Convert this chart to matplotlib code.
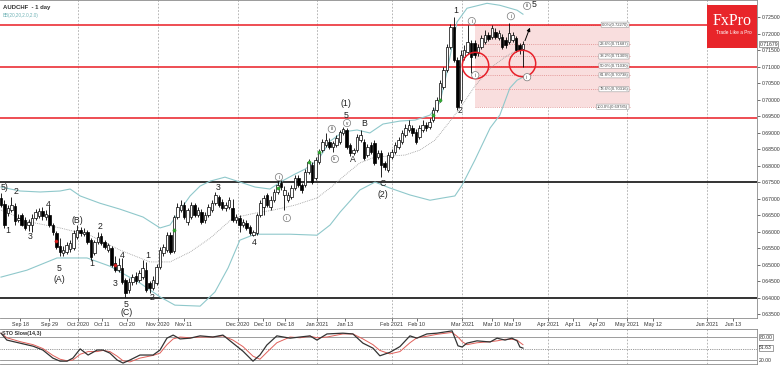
import matplotlib
matplotlib.use("Agg")
import matplotlib.pyplot as plt
from matplotlib.patches import Rectangle

plt.rcParams['font.family'] = ['Liberation Sans', 'DejaVu Sans']

# ---------------- data (AUDCHF daily candles) ----------------
opens = [0.6701, 0.6683, 0.6656, 0.6665, 0.6677, 0.6635, 0.6650, 0.6635, 0.6620, 0.6620,
         0.6641, 0.6647, 0.6662, 0.6644, 0.6650, 0.6620, 0.6596, 0.6556, 0.6535, 0.6538,
         0.6547, 0.6550, 0.6583, 0.6605, 0.6592, 0.6599, 0.6574, 0.6535, 0.6568, 0.6586,
         0.6568, 0.6544, 0.6550, 0.6505, 0.6483, 0.6490, 0.6453, 0.6423, 0.6447, 0.6465,
         0.6453, 0.6462, 0.6483, 0.6444, 0.6429, 0.6444, 0.6492, 0.6535, 0.6544, 0.6589,
         0.6541, 0.6644, 0.6665, 0.6680, 0.6630, 0.6644, 0.6680, 0.6650, 0.6659, 0.6635,
         0.6650, 0.6665, 0.6686, 0.6705, 0.6689, 0.6671, 0.6674, 0.6671, 0.6635, 0.6641,
         0.6620, 0.6626, 0.6614, 0.6589, 0.6595, 0.6650, 0.6674, 0.6711, 0.6674, 0.6695,
         0.6720, 0.6747, 0.6711, 0.6695, 0.6705, 0.6732, 0.6762, 0.6741, 0.6741, 0.6780,
         0.6802, 0.6762, 0.6811, 0.6847, 0.6862, 0.6871, 0.6856, 0.6862, 0.6871, 0.6899,
         0.6908, 0.6862, 0.6838, 0.6847, 0.6877, 0.6871, 0.6832, 0.6862, 0.6868, 0.6826,
         0.6838, 0.6808, 0.6786, 0.6826, 0.6841, 0.6856, 0.6871, 0.6892, 0.6908, 0.6914,
         0.6902, 0.6886, 0.6908, 0.6923, 0.6917, 0.6938, 0.6968, 0.6999, 0.7038, 0.7089,
         0.7159, 0.7220, 0.7120, 0.6999, 0.7129, 0.7144, 0.7171, 0.7171, 0.7141, 0.7159,
         0.7174, 0.7195, 0.7189, 0.7205, 0.7186, 0.7189, 0.7180, 0.7174, 0.7180, 0.7186,
         0.7165, 0.7153]
highs = [0.6717, 0.6695, 0.6680, 0.6705, 0.6686, 0.6653, 0.6656, 0.6644, 0.6638, 0.6653,
         0.6668, 0.6671, 0.6674, 0.6665, 0.6677, 0.6626, 0.6602, 0.6580, 0.6556, 0.6568,
         0.6574, 0.6605, 0.6620, 0.6614, 0.6611, 0.6605, 0.6580, 0.6574, 0.6599, 0.6595,
         0.6574, 0.6565, 0.6556, 0.6526, 0.6520, 0.6520, 0.6459, 0.6459, 0.6471, 0.6477,
         0.6483, 0.6514, 0.6508, 0.6450, 0.6465, 0.6502, 0.6553, 0.6562, 0.6599, 0.6599,
         0.6650, 0.6686, 0.6695, 0.6689, 0.6671, 0.6689, 0.6686, 0.6674, 0.6668, 0.6659,
         0.6683, 0.6695, 0.6720, 0.6711, 0.6698, 0.6689, 0.6705, 0.6698, 0.6653, 0.6650,
         0.6638, 0.6635, 0.6620, 0.6605, 0.6656, 0.6695, 0.6711, 0.6717, 0.6708, 0.6729,
         0.6756, 0.6756, 0.6738, 0.6720, 0.6741, 0.6771, 0.6771, 0.6747, 0.6789, 0.6820,
         0.6811, 0.6826, 0.6850, 0.6880, 0.6899, 0.6883, 0.6874, 0.6892, 0.6908, 0.6917,
         0.6914, 0.6868, 0.6853, 0.6895, 0.6908, 0.6880, 0.6865, 0.6871, 0.6877, 0.6847,
         0.6847, 0.6814, 0.6841, 0.6850, 0.6871, 0.6886, 0.6908, 0.6926, 0.6938, 0.6923,
         0.6911, 0.6923, 0.6938, 0.6932, 0.6944, 0.6977, 0.7008, 0.7059, 0.7098, 0.7168,
         0.7229, 0.7250, 0.7129, 0.7150, 0.7165, 0.7226, 0.7180, 0.7180, 0.7168, 0.7195,
         0.7211, 0.7205, 0.7226, 0.7217, 0.7211, 0.7198, 0.7189, 0.7232, 0.7205, 0.7192,
         0.7171, 0.7177]
lows = [0.6674, 0.6611, 0.6647, 0.6659, 0.6620, 0.6629, 0.6617, 0.6605, 0.6602, 0.6599,
        0.6635, 0.6641, 0.6635, 0.6635, 0.6614, 0.6589, 0.6547, 0.6526, 0.6526, 0.6532,
        0.6538, 0.6544, 0.6577, 0.6586, 0.6586, 0.6562, 0.6514, 0.6529, 0.6562, 0.6559,
        0.6547, 0.6538, 0.6493, 0.6477, 0.6477, 0.6441, 0.6402, 0.6414, 0.6438, 0.6441,
        0.6447, 0.6456, 0.6417, 0.6414, 0.6423, 0.6438, 0.6486, 0.6526, 0.6538, 0.6532,
        0.6535, 0.6638, 0.6659, 0.6638, 0.6620, 0.6638, 0.6644, 0.6644, 0.6623, 0.6626,
        0.6644, 0.6659, 0.6680, 0.6674, 0.6665, 0.6662, 0.6668, 0.6629, 0.6626, 0.6598,
        0.6614, 0.6605, 0.6589, 0.6586, 0.6589, 0.6644, 0.6650, 0.6674, 0.6665, 0.6689,
        0.6714, 0.6726, 0.6665, 0.6689, 0.6699, 0.6726, 0.6735, 0.6717, 0.6735, 0.6774,
        0.6744, 0.6756, 0.6805, 0.6841, 0.6856, 0.6850, 0.6841, 0.6856, 0.6865, 0.6892,
        0.6850, 0.6829, 0.6832, 0.6841, 0.6871, 0.6817, 0.6826, 0.6835, 0.6802, 0.6820,
        0.6765, 0.6786, 0.6780, 0.6820, 0.6835, 0.6850, 0.6865, 0.6886, 0.6902, 0.6889,
        0.6865, 0.6880, 0.6902, 0.6905, 0.6911, 0.6932, 0.6962, 0.6993, 0.7032, 0.7083,
        0.7153, 0.7114, 0.6968, 0.6990, 0.7120, 0.7138, 0.7080, 0.7126, 0.7132, 0.7153,
        0.7168, 0.7177, 0.7183, 0.7183, 0.7180, 0.7153, 0.7156, 0.7168, 0.7174, 0.7144,
        0.7138, 0.7099]
closes = [0.6680, 0.6620, 0.6671, 0.6680, 0.6632, 0.6641, 0.6620, 0.6611, 0.6629, 0.6641,
          0.6659, 0.6662, 0.6647, 0.6653, 0.6620, 0.6598, 0.6553, 0.6538, 0.6544, 0.6559,
          0.6565, 0.6595, 0.6605, 0.6595, 0.6599, 0.6568, 0.6523, 0.6568, 0.6583, 0.6565,
          0.6553, 0.6559, 0.6499, 0.6483, 0.6499, 0.6447, 0.6414, 0.6447, 0.6462, 0.6450,
          0.6474, 0.6489, 0.6423, 0.6429, 0.6453, 0.6492, 0.6544, 0.6553, 0.6589, 0.6538,
          0.6644, 0.6674, 0.6680, 0.6644, 0.6665, 0.6680, 0.6650, 0.6665, 0.6629, 0.6650,
          0.6674, 0.6686, 0.6711, 0.6680, 0.6671, 0.6680, 0.6695, 0.6635, 0.6644, 0.6620,
          0.6629, 0.6611, 0.6595, 0.6598, 0.6650, 0.6686, 0.6701, 0.6680, 0.6695, 0.6720,
          0.6741, 0.6735, 0.6726, 0.6711, 0.6732, 0.6762, 0.6741, 0.6726, 0.6780, 0.6811,
          0.6750, 0.6817, 0.6841, 0.6871, 0.6877, 0.6856, 0.6868, 0.6883, 0.6902, 0.6911,
          0.6856, 0.6838, 0.6847, 0.6886, 0.6892, 0.6823, 0.6856, 0.6841, 0.6808, 0.6838,
          0.6802, 0.6796, 0.6832, 0.6841, 0.6862, 0.6877, 0.6899, 0.6914, 0.6923, 0.6899,
          0.6871, 0.6914, 0.6923, 0.6914, 0.6932, 0.6968, 0.6999, 0.7050, 0.7089, 0.7159,
          0.7220, 0.7120, 0.6977, 0.7135, 0.7150, 0.7174, 0.7129, 0.7135, 0.7159, 0.7186,
          0.7195, 0.7183, 0.7217, 0.7189, 0.7201, 0.7159, 0.7165, 0.7201, 0.7195, 0.7150,
          0.7150, 0.7168]

# Bollinger bands (20, 2.0), x in bar numbers
bb_up_x = [0, 5.5, 11.3, 17.1, 20, 22.9, 28.6, 34.4, 41.1, 46, 48.9, 51.8, 54.7, 57.6, 60.5,
           64.8, 68.3, 73.5, 77.8, 81.3, 85, 87.9, 91.7, 95.2, 98.9, 103, 106.7, 110.5, 115.4,
           119.8, 124.1, 127, 129, 131.9, 134.8, 140.6, 144.3, 149.3, 151]
bb_up = [0.6735, 0.6723, 0.6720, 0.6723, 0.6729, 0.6708, 0.6686, 0.6668, 0.6644, 0.6611,
         0.6620, 0.6665, 0.6708, 0.6738, 0.6753, 0.6765, 0.6753, 0.6735, 0.6729, 0.6753,
         0.6774, 0.6789, 0.6817, 0.6874, 0.6902, 0.6908, 0.6899, 0.6926, 0.6935, 0.6938,
         0.6953, 0.6992, 0.7083, 0.7235, 0.7277, 0.7292, 0.7286, 0.7271, 0.7259]
bb_mid_x = [0, 8.4, 17.1, 25.7, 34.4, 43.1, 48.9, 54.7, 60.5, 67.1, 73.5, 78.7, 85, 91.4,
            95.2, 99.5, 103.8, 108.2, 112.5, 116.9, 121.2, 125.5, 127.9, 132.8, 137.1, 141.5,
            145.8, 151]
bb_mid = [0.6665, 0.6629, 0.6611, 0.6589, 0.6544, 0.6508, 0.6508, 0.6538, 0.6580, 0.6641,
          0.6656, 0.6665, 0.6680, 0.6702, 0.6732, 0.6771, 0.6808, 0.6826, 0.6829, 0.6832,
          0.6847, 0.6877, 0.6908, 0.6974, 0.7041, 0.7095, 0.7129, 0.7162]
bb_lo_x = [0, 7.5, 16.2, 24.9, 31.5, 40.2, 46, 50.3, 57.6, 61.9, 65.7, 69.1, 73.5, 83.6, 91.4,
           95.2, 98.1, 103.8, 108.2, 112.5, 118.3, 124.1, 127.9, 131.3, 133.4, 137.1, 141.5,
           144.3, 147.2, 149.3, 151]
bb_lo = [0.6462, 0.6483, 0.6520, 0.6520, 0.6495, 0.6444, 0.6402, 0.6377, 0.6374, 0.6417,
         0.6490, 0.6574, 0.6592, 0.6592, 0.6589, 0.6620, 0.6659, 0.6726, 0.6750, 0.6732,
         0.6711, 0.6695, 0.6702, 0.6708, 0.6741, 0.6817, 0.6914, 0.6953, 0.7035, 0.7059,
         0.7068]

# Stochastic slow (14,3)
sto_x = [0, 1.7, 5.5, 9.3, 12.1, 15, 17.1, 19.1, 20.8, 22.9, 25.2, 27.8, 29.5, 31.5, 33.6,
         35.3, 37.3, 40.2, 44, 46, 48, 49.8, 51.8, 54.7, 57.6, 61.3, 64.2, 67.1, 70, 72.9,
         74.9, 76.9, 79.8, 83.6, 86.5, 89.4, 91.4, 94.3, 98.9, 101.8, 104.7, 107.6, 109.6,
         112.5, 115.4, 118.3, 120.3, 123.2, 126.1, 130.5, 132.2, 133.4, 134.8, 137.7, 141.5,
         143.5, 145.8, 147.8, 149.3, 150.1, 151]
sto_k = [90, 72, 64, 56, 46, 25, 17, 17, 25, 49, 33, 46, 46, 38, 20, 12, 20, 33, 33, 46,
         77, 85, 75, 77, 83, 80, 85, 64, 43, 17, 33, 59, 83, 77, 80, 83, 72, 88, 90, 88,
         64, 51, 31, 40, 55, 83, 77, 88, 90, 96, 57, 54, 64, 70, 67, 77, 72, 77, 70, 54, 51]
sto_d = [90, 78, 68, 60, 50, 32, 22, 18, 20, 35, 42, 42, 45, 42, 30, 18, 15, 25, 32, 38,
         60, 75, 80, 78, 80, 80, 83, 72, 55, 30, 22, 40, 65, 80, 78, 82, 78, 80, 88, 88,
         75, 60, 45, 36, 42, 65, 78, 82, 87, 92, 80, 68, 60, 65, 68, 70, 74, 74, 72, 66, 60]

# signal dots
green_x = [50, 80, 89, 92, 125, 127]
green_y = [0.6605, 0.6732, 0.6811, 0.6841, 0.6953, 0.6999]
red_x = [16, 33]
red_y = [0.6571, 0.6499]

# horizontal levels
red_levels = [0.7227, 0.7100, 0.6943]
black_levels = [0.6750, 0.6400]

# Fibonacci retracement
fib_pct = [0.0, 23.6, 38.2, 50.0, 61.8, 78.6, 100.0]
fib_val = [0.72270, 0.71687, 0.71309, 0.71030, 0.70738, 0.70316, 0.69785]
fib_x0, fib_x1 = 137.1, 181.9

# axis labels
price_ticks = [0.635, 0.640, 0.645, 0.650, 0.655, 0.660, 0.665, 0.670, 0.675, 0.680,
               0.685, 0.690, 0.695, 0.700, 0.705, 0.710, 0.715, 0.720, 0.725]
date_pos = [5.5, 13.9, 22.3, 29.2, 36.4, 45.4, 52.9, 68.5, 75.8, 82.2, 91.5, 99.5, 113.0,
            120.3, 133.5, 142.0, 148.1, 158.2, 165.5, 172.4, 181.1, 188.6, 204.2, 211.7]
date_labels = ['Sep 18', 'Sep 29', 'Oct 2020', 'Oct 11', 'Oct 20', 'Nov 2020', 'Nov 11',
               'Dec 2020', 'Dec 10', 'Dec 18', 'Jan 2021', 'Jan 13', 'Feb 2021', 'Feb 10',
               'Mar 2021', 'Mar 10', 'Mar 19', 'Apr 2021', 'Apr 11', 'Apr 20', 'May 2021',
               'May 12', 'Jun 2021', 'Jun 13']
month_pos = [22.3, 45.4, 68.5, 91.5, 113.0, 133.5, 158.2, 181.1, 204.2]
last_price = 0.71679
last_sto = 51.63

# wave labels: (text, x bar, price)
wave_labels = [('5)', 1.0, 0.6735), ('2', 4.3, 0.6720), ('1', 2.0, 0.6602), ('3', 8.4, 0.6584),
               ('4', 13.6, 0.6683), ('5', 16.8, 0.6489), ('(A)', 16.8, 0.6456),
               ('(B)', 22.0, 0.6635), ('2', 28.6, 0.6614), ('1', 26.3, 0.6502),
               ('4', 35.0, 0.6526), ('3', 33.0, 0.6444), ('5', 36.2, 0.6379), ('(C)', 36.2, 0.6354),
               ('1', 42.5, 0.6526), ('2', 43.7, 0.6399), ('3', 62.8, 0.6735), ('4', 73.2, 0.6568),
               ('5', 99.8, 0.6953), ('(1)', 99.8, 0.6989), ('B', 105.0, 0.6929), ('A', 101.8, 0.6817),
               ('C', 110.5, 0.6747), ('(2)', 110.5, 0.6711), ('1', 131.6, 0.7271), ('2', 132.8, 0.6968),
               ('5', 154.3, 0.7288)]
circle_labels = [('i', 80.4, 0.6765), ('ii', 82.7, 0.6641), ('iii', 95.7, 0.6911),
                 ('iv', 96.6, 0.6820), ('v', 100.1, 0.6929), ('i', 136.2, 0.7238),
                 ('ii', 137.2, 0.7074), ('i', 147.5, 0.7253), ('ii', 152.2, 0.7068),
                 ('iii', 152.2, 0.7284)]
red_circles = [(137.1, 0.7105), (150.7, 0.7111)]
arrow_from = (151.3, 0.7171)
arrow_to = (153.3, 0.7226)

# ---------------- figure ----------------
fig = plt.figure(figsize=(7.82, 3.66), dpi=100)
fig.patch.set_facecolor('white')
ax = fig.add_axes([0.0, 48 / 366, 757 / 782, 318 / 366])
ax2 = fig.add_axes([0.0, 2 / 366, 757 / 782, 35 / 366])
XMIN, XMAX = -0.29, 218.7

for a in (ax, ax2):
    a.set_xlim(XMIN, XMAX)
    a.set_facecolor('white')
    for s in a.spines.values():
        s.set_color('#8a8a8a')
        s.set_linewidth(0.6)
    a.spines['left'].set_visible(False)
    for m in month_pos:
        a.axvline(m, color='#a9a9a9', lw=0.6, ls=(0, (2, 2)), zorder=0)

ax.set_ylim(0.6338, 0.7302)

# fib zone
ax.add_patch(Rectangle((fib_x0, fib_val[-1]), fib_x1 - fib_x0, fib_val[0] - fib_val[-1],
                       facecolor='#f9dede', edgecolor='none', zorder=0.5))
ax.hlines(fib_val, fib_x0, fib_x1, colors='#e49a9a', linestyles=(0, (1, 1.2)), lw=0.7, zorder=1)
for p, v in zip(fib_pct, fib_val):
    ax.text(fib_x1 - 0.4, v, f'{p:.1f}%({v:.5f})', ha='right', va='center', fontsize=3.0,
            color='#444444', zorder=6,
            bbox=dict(boxstyle='round,pad=0.15', fc='white', ec='#9a9a9a', lw=0.4))

# horizontal levels
for v in red_levels:
    ax.axhline(v, color='#ea1d24', lw=1.1, zorder=2)
for v in black_levels:
    ax.axhline(v, color='#333333', lw=1.4, zorder=2)

# bollinger bands
ax.plot(bb_up_x, bb_up, color='#8fc8cb', lw=0.8, zorder=2.5)
ax.plot(bb_lo_x, bb_lo, color='#8fc8cb', lw=0.8, zorder=2.5)
ax.plot(bb_mid_x, bb_mid, color='#9a9a9a', lw=0.6, ls=(0, (1, 1.2)), zorder=2.5)

# candles
for i, (o, h, l, c) in enumerate(zip(opens, highs, lows, closes)):
    ax.plot([i, i], [l, h], color='black', lw=0.6, zorder=3, solid_capstyle='butt')
    bottom = min(o, c)
    height = max(abs(c - o), 0.00008)
    ax.add_patch(Rectangle((i - 0.36, bottom), 0.72, height,
                           facecolor='black' if c < o else 'white',
                           edgecolor='black', lw=0.5, zorder=4))

ax.plot(green_x, green_y, 'o', color='#33aa33', ms=2.3, mec='#2a8a2a', mew=0.3, zorder=5)
ax.plot(red_x, red_y, 'o', color='#dd2222', ms=2.3, mec='#aa1111', mew=0.3, zorder=5)

# red circles and arrow
for cx, cy in red_circles:
    ax.plot([cx], [cy], 'o', ms=19, mfc='none', mec='#e8202a', mew=1.1, zorder=6)
ax.annotate('', xy=arrow_to, xytext=arrow_from,
            arrowprops=dict(arrowstyle='-|>', color='black', lw=0.7, mutation_scale=5), zorder=6)

# wave labels
for t, x, y in wave_labels:
    ax.text(x, y, t, ha='center', va='center', fontsize=6.3, color='#222222', zorder=7)
for t, x, y in circle_labels:
    ax.text(x, y, t, ha='center', va='center', fontsize=3.3, color='#333333',
            zorder=7, bbox=dict(boxstyle='circle,pad=0.25', fc='white', ec='#777777', lw=0.5))

# price axis
ax.yaxis.tick_right()
ax.set_yticks(price_ticks)
ax.set_yticklabels([f'{v:.5f}' for v in price_ticks])
ax.tick_params(axis='y', labelsize=3.7, colors='#333333', length=2, width=0.5, pad=1.2)
ax.text(1.003, last_price, f'{last_price:.5f}', transform=ax.get_yaxis_transform(),
        fontsize=3.7, va='center', ha='left', color='#333333', zorder=8,
        bbox=dict(boxstyle='square,pad=0.1', fc='white', ec='#777777', lw=0.5))

# date axis
ax.set_xticks(date_pos)
ax.set_xticklabels(date_labels)
ax.tick_params(axis='x', labelsize=3.9, colors='#333333', length=2, width=0.5, pad=1.2)

# title texts
ax.text(0.004, 0.985, 'AUDCHF  - 1 day', transform=ax.transAxes, fontsize=4.3, fontweight='bold',
        color='#333333', va='top', ha='left')
ax.text(0.004, 0.958, 'BB(20,20,2.0,2.0)', transform=ax.transAxes, fontsize=3.3,
        color='#6fb3b6', va='top', ha='left')

# FxPro logo
fig.patches.append(Rectangle((707 / 782, (366 - 48) / 366), 50 / 782, 43 / 366,
                             transform=fig.transFigure, facecolor='#e8252a',
                             edgecolor='none', zorder=10))
fig.text(732 / 782, (366 - 21) / 366, 'FxPro', color='white', fontsize=11.5,
         family=['Liberation Serif', 'DejaVu Serif'], ha='center', va='center', zorder=11)
fig.text(734 / 782, (366 - 32) / 366, 'Trade Like a Pro', color='white', fontsize=3.4,
         ha='center', va='center', zorder=11)

# stochastic panel
ax2.set_ylim(9.6, 100.9)
ax2.axhline(80, color='#8c8c8c', lw=0.6)
ax2.axhline(20, color='#8c8c8c', lw=0.6)
ax2.axhline(50, color='#777777', lw=0.6, ls=(0, (1, 1.2)))
ax2.plot(sto_x, sto_d, color='#e0605a', lw=0.7, zorder=3)
ax2.plot(sto_x, sto_k, color='#333333', lw=0.9, zorder=4)
ax2.set_xticks([])
ax2.yaxis.tick_right()
ax2.set_yticks([])
ax2.text(0.003, 0.93, 'STO Slow(14,3)', transform=ax2.transAxes, fontsize=3.9,
         fontweight='bold', color='#333333', va='top', ha='left')
for v in (80.0, last_sto):
    ax2.text(1.003, v, f'{v:.2f}', transform=ax2.get_yaxis_transform(), fontsize=3.7,
             va='center', ha='left', color='#333333',
             bbox=dict(boxstyle='square,pad=0.1', fc='white', ec='#777777', lw=0.5))
ax2.text(1.003, 20.0, '20.00', transform=ax2.get_yaxis_transform(), fontsize=3.7,
         va='center', ha='left', color='#333333')

fig.savefig('out.png', dpi=100, facecolor='white')
